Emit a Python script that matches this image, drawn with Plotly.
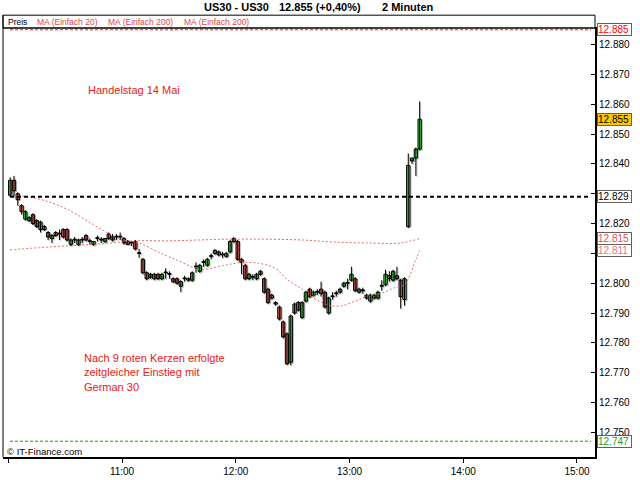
import pandas as pd
import plotly.graph_objects as go

# 2-minute candles, US30, 14 May 2012
opens = [12829.5, 12834.5, 12830.0, 12826.0, 12821.5, 12821.0, 12823.0, 12821.0, 12820.5, 12818.0,
         12817.0, 12815.0, 12817.0, 12816.5, 12818.0, 12818.0, 12813.0, 12814.5, 12813.0, 12814.5,
         12816.0, 12814.0, 12813.0, 12815.0, 12814.5, 12814.0, 12816.5, 12815.5, 12815.5, 12815.5,
         12815.0, 12814.0, 12813.5, 12814.0, 12810.0, 12808.0, 12803.5, 12803.0, 12801.5, 12803.0,
         12801.5, 12803.5, 12803.0, 12801.5, 12801.5, 12799.0, 12801.5, 12801.0, 12801.0, 12805.5,
         12804.0, 12807.0, 12806.0, 12809.0, 12810.0, 12810.5, 12809.5, 12809.0, 12810.5, 12815.0,
         12814.0, 12808.0, 12806.0, 12801.5, 12802.0, 12801.5, 12804.0, 12801.5, 12798.0, 12796.0,
         12793.5, 12792.0, 12787.0, 12783.0, 12773.5, 12790.0, 12793.5, 12788.5, 12794.0, 12798.0,
         12796.0, 12797.0, 12798.0, 12797.0, 12790.0, 12795.5, 12796.5, 12797.0, 12799.0, 12800.0,
         12801.0, 12801.5, 12797.0, 12797.5, 12796.0, 12794.0, 12795.0, 12795.0, 12799.0, 12799.5,
         12802.5, 12801.0, 12802.5, 12801.0, 12794.5, 12819.0, 12841.0, 12842.0, 12845.0]
highs = [12835.5, 12836.0, 12830.5, 12826.5, 12824.5, 12822.5, 12823.5, 12821.5, 12821.0, 12819.5,
         12817.5, 12816.5, 12817.5, 12818.0, 12818.5, 12818.5, 12815.0, 12815.5, 12815.0, 12815.5,
         12816.5, 12815.0, 12814.0, 12816.0, 12815.5, 12815.0, 12817.0, 12816.5, 12816.5, 12817.0,
         12815.5, 12814.5, 12814.0, 12814.5, 12811.5, 12808.5, 12804.0, 12803.5, 12803.5, 12803.5,
         12803.5, 12805.0, 12804.0, 12802.0, 12802.0, 12801.0, 12802.5, 12802.0, 12804.0, 12807.0,
         12806.5, 12808.0, 12808.5, 12810.0, 12811.5, 12811.0, 12810.5, 12810.5, 12814.5, 12815.5,
         12814.5, 12808.5, 12806.5, 12803.5, 12803.0, 12803.5, 12804.5, 12802.0, 12798.5, 12796.5,
         12794.0, 12792.5, 12787.5, 12783.5, 12789.5, 12793.5, 12794.0, 12794.0, 12797.5, 12798.5,
         12797.5, 12798.0, 12800.5, 12797.5, 12795.5, 12797.0, 12797.5, 12798.5, 12800.5, 12801.5,
         12805.5, 12802.0, 12798.5, 12798.5, 12796.5, 12796.5, 12796.5, 12797.5, 12801.0, 12804.5,
         12804.0, 12804.5, 12805.5, 12801.5, 12802.0, 12843.5, 12842.0, 12845.5, 12861.0]
lows = [12829.0, 12829.0, 12826.0, 12823.0, 12821.0, 12820.5, 12819.5, 12818.5, 12817.0, 12817.5,
        12814.5, 12813.5, 12815.5, 12814.5, 12815.0, 12814.0, 12812.5, 12813.5, 12812.5, 12813.5,
        12814.0, 12813.0, 12812.5, 12814.0, 12813.5, 12813.5, 12814.5, 12814.0, 12814.5, 12814.5,
        12813.0, 12813.0, 12812.5, 12811.0, 12808.5, 12803.0, 12801.0, 12801.5, 12801.0, 12801.0,
        12801.0, 12801.5, 12801.5, 12800.0, 12799.5, 12797.0, 12800.5, 12800.5, 12800.5, 12803.5,
        12803.5, 12805.5, 12805.5, 12808.0, 12809.5, 12809.0, 12808.5, 12808.5, 12810.0, 12813.5,
        12807.5, 12803.0, 12801.0, 12801.0, 12801.0, 12801.0, 12802.5, 12796.5, 12793.0, 12794.5,
        12792.5, 12787.5, 12781.5, 12772.5, 12772.5, 12789.5, 12790.5, 12788.0, 12793.5, 12795.0,
        12795.5, 12796.0, 12795.5, 12791.5, 12789.5, 12794.5, 12795.5, 12796.5, 12798.5, 12798.0,
        12800.5, 12797.0, 12796.5, 12796.5, 12794.5, 12793.5, 12794.5, 12794.5, 12797.5, 12799.0,
        12800.5, 12800.5, 12801.0, 12791.5, 12792.5, 12818.5, 12840.0, 12836.0, 12844.5]
closes = [12834.5, 12831.0, 12828.0, 12824.0, 12824.0, 12822.0, 12820.0, 12819.0, 12818.0, 12819.0,
          12815.5, 12816.0, 12816.0, 12816.5, 12815.5, 12814.5, 12814.5, 12814.5, 12814.5, 12814.5,
          12814.5, 12814.0, 12814.0, 12815.0, 12814.5, 12815.0, 12815.0, 12814.5, 12815.5, 12815.5,
          12813.5, 12813.0, 12813.5, 12811.5, 12810.0, 12803.5, 12801.5, 12802.0, 12803.0, 12801.5,
          12803.0, 12803.5, 12803.0, 12800.5, 12800.0, 12800.5, 12801.5, 12801.5, 12803.5, 12805.5,
          12806.0, 12807.0, 12808.0, 12809.0, 12811.0, 12809.5, 12809.5, 12810.0, 12814.0, 12814.0,
          12808.0, 12807.0, 12801.5, 12803.0, 12802.0, 12803.0, 12803.0, 12797.0, 12793.5, 12795.0,
          12793.0, 12788.0, 12782.0, 12773.0, 12789.0, 12793.0, 12791.0, 12793.5, 12797.0, 12795.5,
          12797.0, 12797.0, 12796.5, 12792.0, 12795.0, 12795.5, 12796.5, 12798.0, 12800.0, 12800.0,
          12803.0, 12797.5, 12798.0, 12797.5, 12795.0, 12796.0, 12796.0, 12797.0, 12799.0, 12803.0,
          12801.5, 12804.0, 12801.5, 12795.5, 12801.5, 12839.5, 12842.0, 12845.0, 12855.0]

# moving averages, read at a few candle positions
ma20_idx = [0, 8, 15, 24, 29, 34, 40, 45, 50, 56, 61, 66, 70, 73, 77, 80, 84, 87, 91, 94, 98, 101, 104, 107, 108]
ma20_vals = [12829.7, 12828.1, 12824.8, 12818.1, 12814.8, 12813.5, 12809.9, 12807.2, 12804.6, 12805.9,
             12806.9, 12806.6, 12804.9, 12801.3, 12798.0, 12795.0, 12792.7, 12792.3, 12794.0, 12795.6,
             12796.6, 12798.3, 12799.6, 12807.9, 12811.0]
ma200_idx = [0, 11, 24, 33, 42, 50, 59, 77, 85, 94, 103, 108]
ma200_vals = [12811.2, 12812.2, 12813.2, 12814.2, 12814.2, 12814.5, 12814.8, 12814.5, 12813.8, 12813.5,
              12813.5, 12815.0]

# horizontal levels and the price boxes on the right axis
level_vals = [12885, 12829, 12747]
level_colors = ["#ff2020", "#000000", "#1a9a1a"]
level_widths = [1, 2, 1]
box_vals = [12885, 12855, 12829, 12815, 12811, 12747]
box_text_colors = ["#ff0000", "#000000", "#000000", "#e05050", "#f07070", "#1aa01a"]
box_bg = ["white", "#fcc800", "white", "white", "white", "white"]

y_ticks = list(range(12750, 12881, 10))
# labels hidden behind the price boxes are left empty
y_tick_text = ["12.750", "12.760", "12.770", "12.780", "12.790", "12.800", "", "12.820",
               "", "12.840", "12.850", "12.860", "12.870", "12.880"]

GREEN = "#44e644"
RED = "#f06a60"
SHADOW = "#bdbdbd"
FONT = "Liberation Sans, Arial, sans-serif"

times = pd.date_range("2012-05-14 10:01", periods=len(closes), freq="2min")
ma20_x = [times[i] for i in ma20_idx]
ma200_x = [times[i] for i in ma200_idx]

# candle bodies as bars, wicks as broken line segments
body_base = [min(o, c) for o, c in zip(opens, closes)]
body_len = [max(abs(c - o), 0.25) for o, c in zip(opens, closes)]
body_col = [GREEN if c > o else RED if c < o else "black" for o, c in zip(opens, closes)]
wick_x, wick_y = [], []
for t, h, l in zip(times, highs, lows):
    wick_x += [t, t, None]
    wick_y += [l, h, None]
BODY_W = 105 * 1000  # ms

x_range = [pd.Timestamp("2012-05-14 09:57:12"), pd.Timestamp("2012-05-14 15:09:30")]
y_range = [12741.7, 12885.6]
# shadow offset: about one pixel right and down
dx = pd.Timedelta(seconds=32)
dy = 0.33


def px(x):
    return (x - 3) / 592


def py(y):
    return (463 - y) / 435


fig = go.Figure()

# grey drop shadow of the candles (own shifted axes, drawn below the real ones)
fig.add_trace(go.Scatter(x=wick_x, y=wick_y, xaxis="x2", yaxis="y2", mode="lines",
                         line=dict(color=SHADOW, width=1), hoverinfo="skip", showlegend=False))
fig.add_trace(go.Bar(x=times, y=body_len, base=body_base, width=BODY_W, xaxis="x2", yaxis="y2",
                     marker=dict(color=SHADOW, line=dict(color=SHADOW, width=1)),
                     hoverinfo="skip", showlegend=False))

fig.add_trace(go.Scatter(
    x=ma200_x, y=ma200_vals, xaxis="x3", yaxis="y3", mode="lines",
    line=dict(color="#e06868", width=1, dash="2px,2px", shape="spline"),
    hoverinfo="skip", showlegend=False,
))
fig.add_trace(go.Scatter(
    x=ma20_x, y=ma20_vals, xaxis="x3", yaxis="y3", mode="lines",
    line=dict(color="#e87070", width=1, dash="2px,2px", shape="spline"),
    hoverinfo="skip", showlegend=False,
))

fig.add_trace(go.Scatter(x=wick_x, y=wick_y, xaxis="x3", yaxis="y3", mode="lines",
                         line=dict(color="black", width=1), hoverinfo="skip", showlegend=False))
fig.add_trace(go.Bar(x=times, y=body_len, base=body_base, width=BODY_W, xaxis="x3", yaxis="y3",
                     marker=dict(color=body_col, line=dict(color="black", width=1)),
                     hoverinfo="skip", showlegend=False))

shapes = []
for v, c, w in zip(level_vals, level_colors, level_widths):
    shapes.append(dict(type="line", xref="paper", yref="y", x0=px(10), x1=px(591), y0=v, y1=v,
                       line=dict(color=c, width=w, dash="3px,2px" if w == 1 else "4px,3px")))
# frame pieces: left border, top border, legend box, step at the right axis
shapes.append(dict(type="line", xref="paper", yref="paper", x0=0, x1=0, y0=0, y1=py(15),
                   line=dict(color="black", width=1)))
shapes.append(dict(type="line", xref="paper", yref="paper", x0=0, x1=1, y0=1, y1=1,
                   line=dict(color="black", width=1)))
shapes.append(dict(type="rect", xref="paper", yref="paper", x0=0, x1=1, y0=1, y1=py(15),
                   line=dict(color="black", width=1)))
shapes.append(dict(type="line", xref="paper", yref="paper", x0=1, x1=px(632), y0=py(27.5), y1=py(27.5),
                   line=dict(color="black", width=1)))

annotations = [
    dict(x=px(202), y=py(7), text="<b>US30 - US30</b>", font=dict(size=11, color="black")),
    dict(x=px(277), y=py(7), text="<b>12.855 (+0,40%)</b>", font=dict(size=11, color="black")),
    dict(x=px(380), y=py(7), text="<b>2 Minuten</b>", font=dict(size=11, color="black")),
    dict(x=px(6), y=py(22), text="Preis", font=dict(size=8.5, color="black")),
    dict(x=px(35), y=py(22), text="MA (Einfach 20)", font=dict(size=8.5, color="#e04848")),
    dict(x=px(106), y=py(22), text="MA (Einfach 200)", font=dict(size=8.5, color="#e04848")),
    dict(x=px(182), y=py(22), text="MA (Einfach 200)", font=dict(size=8.5, color="#e04848")),
    dict(x=px(86), y=py(91), text="Handelstag 14 Mai", font=dict(size=11, color="#e82020")),
    dict(x=px(82), y=py(377), text="Nach 9 roten Kerzen erfolgte<br>zeitgleicher Einstieg mit<br>German 30",
         font=dict(size=11, color="#e82020"), align="left"),
    dict(x=px(5), y=py(457), text="© IT-Finance.com", font=dict(size=9.5, color="black")),
]
for a in annotations:
    a.update(xref="paper", yref="paper", xanchor="left", yanchor="middle", showarrow=False)

for v, tc, bg in zip(box_vals, box_text_colors, box_bg):
    annotations.append(dict(
        xref="paper", yref="y", x=1, y=v, xshift=2, xanchor="left", yanchor="middle",
        text=f"{v:,}".replace(",", "."), showarrow=False, font=dict(size=10, color=tc),
        bgcolor=bg, bordercolor="#606060", borderwidth=1, borderpad=0, width=33, height=11, align="left",
    ))

fig.update_layout(
    width=640, height=480,
    margin=dict(l=3, r=45, t=28, b=17),
    paper_bgcolor="white", plot_bgcolor="white",
    font=dict(family=FONT, size=10, color="black"),
    separators=",.",
    showlegend=False,
    hovermode=False,
    barmode="overlay",
    shapes=shapes,
    annotations=annotations,
    xaxis=dict(
        type="date", range=x_range,
        tickformat="%H:%M", dtick=3600000, tick0="2012-05-14 11:00",
        showgrid=False, zeroline=False, showline=True, linecolor="black", linewidth=2,
        ticks="outside", ticklen=4, tickcolor="black", tickfont=dict(size=10),
    ),
    xaxis2=dict(type="date", range=[x_range[0] - dx, x_range[1] - dx], overlaying="x", visible=False),
    xaxis3=dict(type="date", range=x_range, overlaying="x", visible=False),
    yaxis=dict(
        side="right", range=y_range, tickvals=y_ticks, ticktext=y_tick_text,
        showgrid=False, zeroline=False, showline=True, linecolor="black", linewidth=2,
        ticks="inside", ticklen=4, tickcolor="black", tickfont=dict(size=10),
    ),
    yaxis2=dict(range=[y_range[0] + dy, y_range[1] + dy], overlaying="y", visible=False),
    yaxis3=dict(range=y_range, overlaying="y", visible=False),
)

# the page's default body margin would shift the chart by 8px
fig.write_html("out.html", config={"displayModeBar": False},
               post_script="document.body.style.margin='0';")
